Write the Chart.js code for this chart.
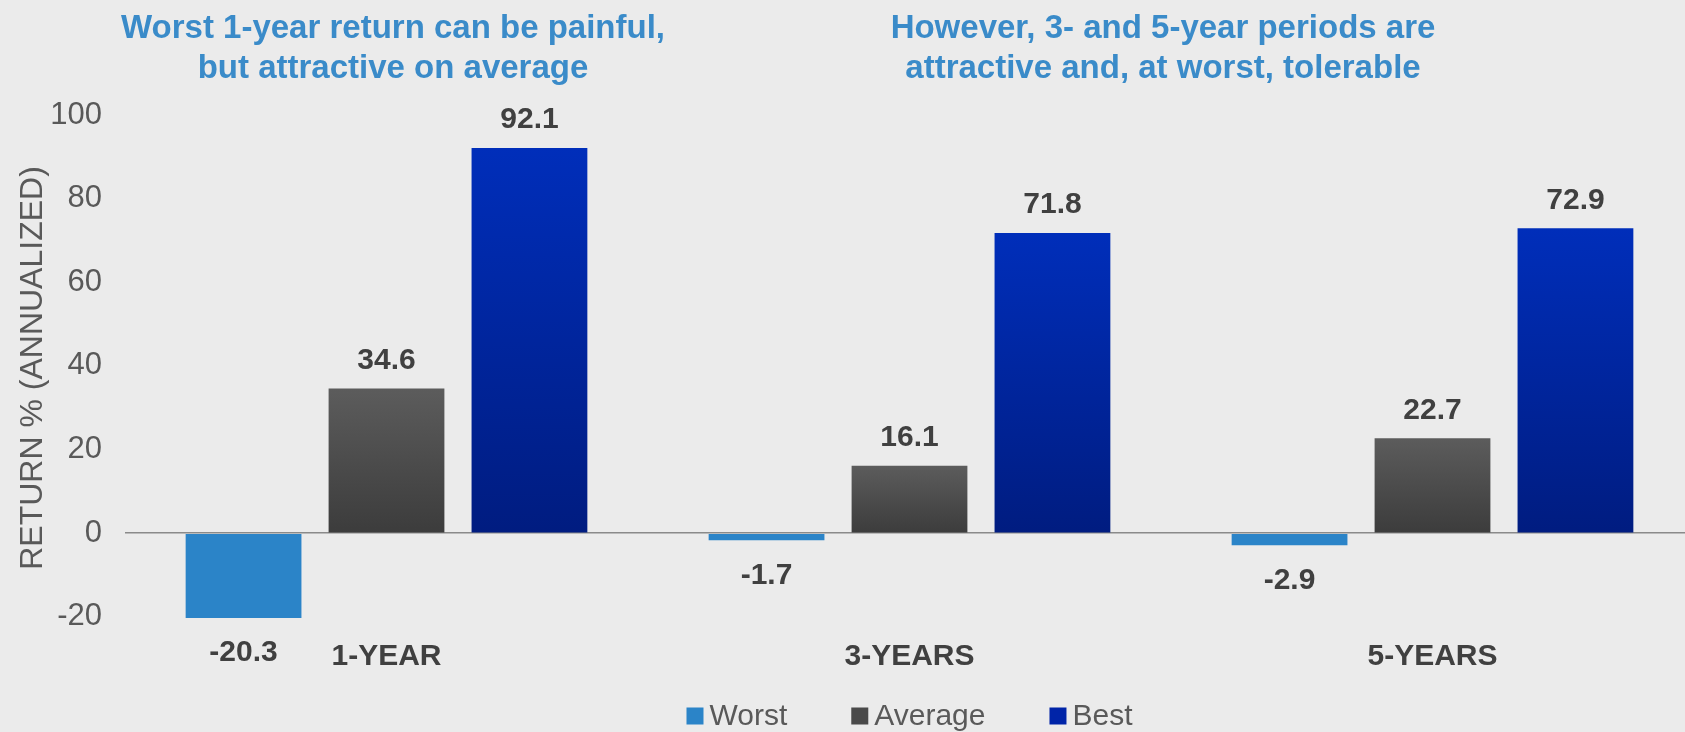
<!DOCTYPE html>
<html>
<head>
<meta charset="utf-8">
<script src="https://cdn.jsdelivr.net/npm/chart.js@4/dist/chart.umd.min.js"></script>
<style>
  html, body { margin: 0; padding: 0; background: #ebebeb; overflow: hidden; width: 1685px; height: 732px; }
  #wrap { position: absolute; left: 0; top: 0; width: 1710px; height: 732px; }
  .hdr {
    position: absolute; top: 7px; transform: translateX(-50%);
    font: bold 33px "Liberation Sans", Arial, sans-serif; color: #3a8bc9;
    text-align: center; line-height: 40px; white-space: nowrap;
  }
</style>
</head>
<body>
<div id="wrap"><canvas id="c" width="1710" height="732"></canvas></div>
<div class="hdr" style="left:393px">Worst 1-year return can be painful,<br>but attractive on average</div>
<div class="hdr" style="left:1163px">However, 3- and 5-year periods are<br>attractive and, at worst, tolerable</div>
<script>
// Holding-period returns, annualized %
const categories = ['1-YEAR', '3-YEARS', '5-YEARS'];
const seriesNames = ['Worst', 'Average', 'Best'];
const worstReturns = [-20.3, -1.7, -2.9];
const averageReturns = [34.6, 16.1, 22.7];
const bestReturns = [92.1, 71.8, 72.9];
const yTickValues = [-20, 0, 20, 40, 60, 80, 100];

const FONT = '"Liberation Sans", Arial, sans-serif';
const legendColors = ['#2b84c8', '#4a4a4a', '#0024a8'];

// Per-bar vertical gradient, lighter at the top
function verticalGradient(top, bottom) {
  return (ctx) => {
    const chart = ctx.chart;
    if (!chart.chartArea || ctx.type !== 'data') return bottom;
    const y = chart.scales.y;
    const v = ctx.raw;
    const y0 = y.getPixelForValue(Math.max(v, 0));
    const y1 = y.getPixelForValue(Math.min(v, 0));
    if (y1 - y0 < 1) return bottom;
    const g = chart.ctx.createLinearGradient(0, y0, 0, y1);
    g.addColorStop(0, top);
    g.addColorStop(1, bottom);
    return g;
  };
}

// Value text above positive bars, below negative ones
const valueLabels = {
  id: 'valueLabels',
  afterDatasetsDraw(chart) {
    const ctx = chart.ctx;
    ctx.save();
    ctx.font = 'bold 30px ' + FONT;
    ctx.fillStyle = '#404040';
    ctx.textAlign = 'center';
    ctx.textBaseline = 'middle';
    chart.data.datasets.forEach((ds, i) => {
      chart.getDatasetMeta(i).data.forEach((bar, j) => {
        const v = ds.data[j];
        const y = v >= 0 ? bar.y - 28 : bar.y + 35;
        ctx.fillText(v.toFixed(1), bar.x, y);
      });
    });
    ctx.restore();
  }
};

// Legend row with square swatches, centred under the plot
const bottomLegend = {
  id: 'bottomLegend',
  afterDraw(chart) {
    const ctx = chart.ctx;
    const a = chart.chartArea;
    ctx.save();
    ctx.font = '30px ' + FONT;
    const box = 17, gap = 6, spacing = 64;
    const items = chart.data.datasets.map((ds, i) => ({
      label: ds.label, color: legendColors[i], w: ctx.measureText(ds.label).width
    }));
    const total = items.reduce((s, it) => s + box + gap + it.w, 0) + spacing * (items.length - 1);
    let x = (a.left + a.right) / 2 - total / 2;
    const y = 716;
    items.forEach(it => {
      ctx.fillStyle = it.color;
      ctx.fillRect(x, y - box / 2, box, box);
      x += box + gap;
      ctx.fillStyle = '#595959';
      ctx.textAlign = 'left';
      ctx.textBaseline = 'middle';
      ctx.fillText(it.label, x, y + 1);
      x += it.w + spacing;
    });
    ctx.restore();
  }
};

new Chart(document.getElementById('c'), {
  type: 'bar',
  data: {
    labels: categories,
    datasets: [
      { label: seriesNames[0], data: worstReturns, backgroundColor: '#2b84c8' },
      { label: seriesNames[1], data: averageReturns, backgroundColor: verticalGradient('#5c5c5c', '#3c3c3c') },
      { label: seriesNames[2], data: bestReturns, backgroundColor: verticalGradient('#002eba', '#001c80') }
    ]
  },
  options: {
    responsive: false,
    animation: false,
    layout: { padding: { top: 115, right: 16, bottom: 61, left: 0 } },
    datasets: { bar: { categoryPercentage: 0.82, barPercentage: 0.81 } },
    plugins: { legend: { display: false }, tooltip: { enabled: false } },
    scales: {
      x: {
        grid: { display: false, drawTicks: false },
        border: { display: false },
        ticks: { font: { family: FONT, size: 30, weight: 'bold' }, color: '#404040', padding: 18, maxRotation: 0 },
        afterFit(s) { s.height = 50; }
      },
      y: {
        min: -21,
        max: 100,
        afterBuildTicks(s) { s.ticks = yTickValues.map(v => ({ value: v })); },
        ticks: { font: { family: FONT, size: 31 }, color: '#595959', padding: 23 },
        grid: {
          drawTicks: false,
          color: c => (c.tick && c.tick.value === 0 ? '#8a8a8a' : 'rgba(0,0,0,0)'),
          lineWidth: 1.5
        },
        border: { display: false },
        title: {
          display: true, text: 'RETURN % (ANNUALIZED)',
          font: { family: FONT, size: 32 }, color: '#595959',
          padding: { top: 14, bottom: 0 }
        },
        afterFit(s) { s.width = 125; }
      }
    }
  },
  plugins: [valueLabels, bottomLegend]
});
</script>
</body>
</html>
